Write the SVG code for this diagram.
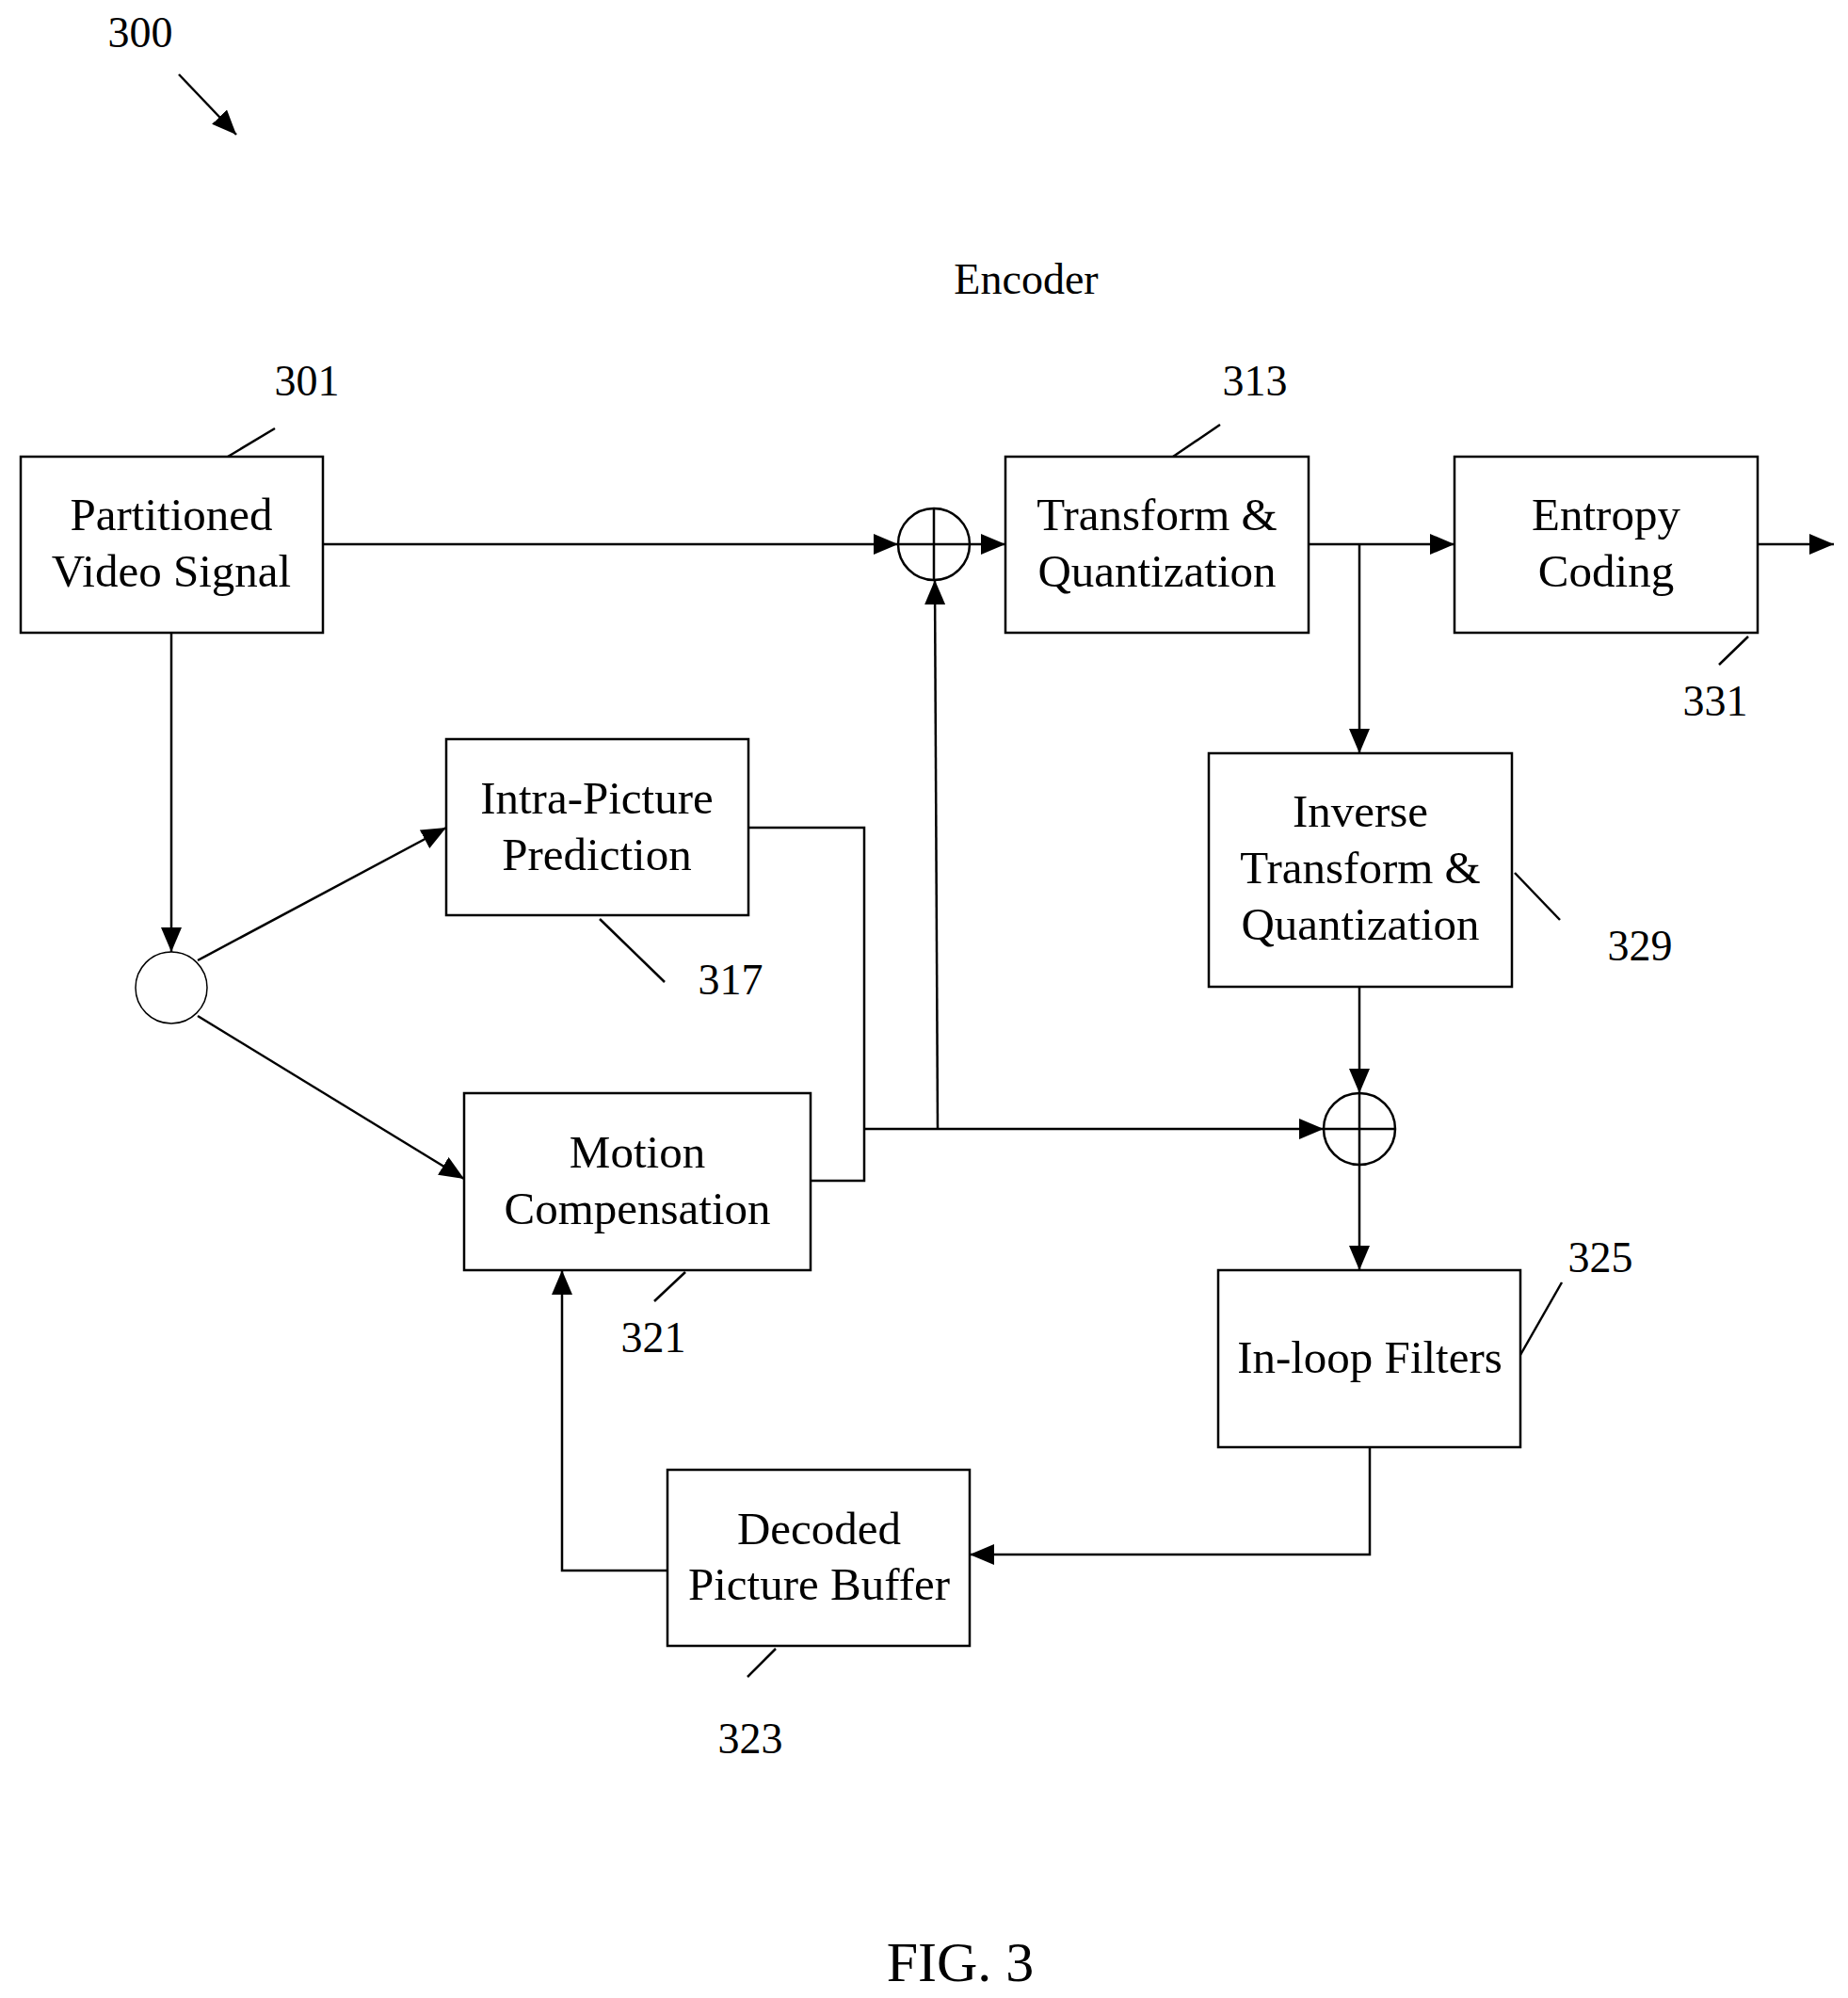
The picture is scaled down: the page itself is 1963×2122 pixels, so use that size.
<svg xmlns="http://www.w3.org/2000/svg" width="1963" height="2122" viewBox="0 0 1963 2122">
<defs>
<style>
.b{fill:#fff;stroke:#000;stroke-width:2.5}
.c{fill:none;stroke:#000;stroke-width:2.5}
text{font-family:"Liberation Serif",serif;font-size:49px;text-anchor:middle;fill:#000}
.n{font-size:46px}
</style>
<marker id="A" viewBox="0 0 10 10" refX="10" refY="5" markerWidth="26" markerHeight="22" markerUnits="userSpaceOnUse" orient="auto" preserveAspectRatio="none"><path d="M0,0L10,5L0,10z"/></marker>
</defs>
<rect width="1963" height="2122" fill="#fff"/>
<g id="labels">
<text class="n" x="149" y="50">300</text>
<line class="c" x1="190" y1="79" x2="251" y2="143" marker-end="url(#A)"/>
<text class="n" x="1090" y="312">Encoder</text>
<text class="n" x="326" y="420">301</text><line class="c" x1="292" y1="455" x2="242" y2="485"/>
<text class="n" x="1333" y="420">313</text><line class="c" x1="1296" y1="451" x2="1246" y2="485"/>
<text class="n" x="1822" y="760">331</text><line class="c" x1="1857" y1="676" x2="1826" y2="706"/>
<text class="n" x="1742" y="1020">329</text><line class="c" x1="1609" y1="927" x2="1657" y2="977"/>
<text class="n" x="776" y="1056">317</text><line class="c" x1="637" y1="976" x2="706" y2="1043"/>
<text class="n" x="694" y="1436">321</text><line class="c" x1="728" y1="1351" x2="695" y2="1382"/>
<text class="n" x="1700" y="1351">325</text><line class="c" x1="1659" y1="1362" x2="1615" y2="1439"/>
<text class="n" x="797" y="1862">323</text><line class="c" x1="824" y1="1751" x2="794" y2="1781"/>
<text x="1020" y="2104" style="font-size:60px">FIG. 3</text>
</g>
<g id="pvs"><rect class="b" x="22" y="485" width="321" height="187"/><text x="182" y="563">Partitioned</text><text x="182" y="623">Video Signal</text></g>
<g id="tq"><rect class="b" x="1068" y="485" width="322" height="187"/><text x="1229" y="563">Transform &amp;</text><text x="1229" y="623">Quantization</text></g>
<g id="ec"><rect class="b" x="1545" y="485" width="322" height="187"/><text x="1706" y="563">Entropy</text><text x="1706" y="623">Coding</text></g>
<g id="ip"><rect class="b" x="474" y="785" width="321" height="187"/><text x="634" y="864">Intra-Picture</text><text x="634" y="924">Prediction</text></g>
<g id="it"><rect class="b" x="1284" y="800" width="322" height="248"/><text x="1445" y="878">Inverse</text><text x="1445" y="938">Transform &amp;</text><text x="1445" y="998">Quantization</text></g>
<g id="mc"><rect class="b" x="493" y="1161" width="368" height="188"/><text x="677" y="1240">Motion</text><text x="677" y="1300">Compensation</text></g>
<g id="lf"><rect class="b" x="1294" y="1349" width="321" height="188"/><text x="1455" y="1458">In-loop Filters</text></g>
<g id="dpb"><rect class="b" x="709" y="1561" width="321" height="187"/><text x="870" y="1640">Decoded</text><text x="870" y="1699">Picture Buffer</text></g>
<g id="sum1"><circle class="b" cx="992" cy="578" r="38"/><path class="c" d="M954,578H1030M992,540V616"/></g>
<g id="sum2"><circle class="b" cx="1444" cy="1199" r="38"/><path class="c" d="M1406,1199H1482M1444,1161V1237"/></g>
<g id="split"><circle class="b" cx="182" cy="1049" r="38" style="stroke-width:1.5"/></g>
<g id="connectors">
<line class="c" x1="343" y1="578" x2="954" y2="578" marker-end="url(#A)"/>
<line class="c" x1="1030" y1="578" x2="1068" y2="578" marker-end="url(#A)"/>
<line class="c" x1="1390" y1="578" x2="1545" y2="578" marker-end="url(#A)"/>
<line class="c" x1="1867" y1="578" x2="1948" y2="578" marker-end="url(#A)"/>
<line class="c" x1="1444" y1="578" x2="1444" y2="800" marker-end="url(#A)"/>
<line class="c" x1="1444" y1="1048" x2="1444" y2="1161" marker-end="url(#A)"/>
<line class="c" x1="1444" y1="1237" x2="1444" y2="1349" marker-end="url(#A)"/>
<line class="c" x1="182" y1="672" x2="182" y2="1011" marker-end="url(#A)"/>
<line class="c" x1="210" y1="1020" x2="474" y2="879" marker-end="url(#A)"/>
<line class="c" x1="210" y1="1079" x2="493" y2="1252" marker-end="url(#A)"/>
<polyline class="c" points="795,879 918,879 918,1254 861,1254"/>
<line class="c" x1="918" y1="1199" x2="1406" y2="1199" marker-end="url(#A)"/>
<line class="c" x1="996" y1="1199" x2="993" y2="616" marker-end="url(#A)"/>
<polyline class="c" points="1455,1537 1455,1651 1030,1651" marker-end="url(#A)"/>
<polyline class="c" points="709,1668 597,1668 597,1349" marker-end="url(#A)"/>
</g>
</svg>
